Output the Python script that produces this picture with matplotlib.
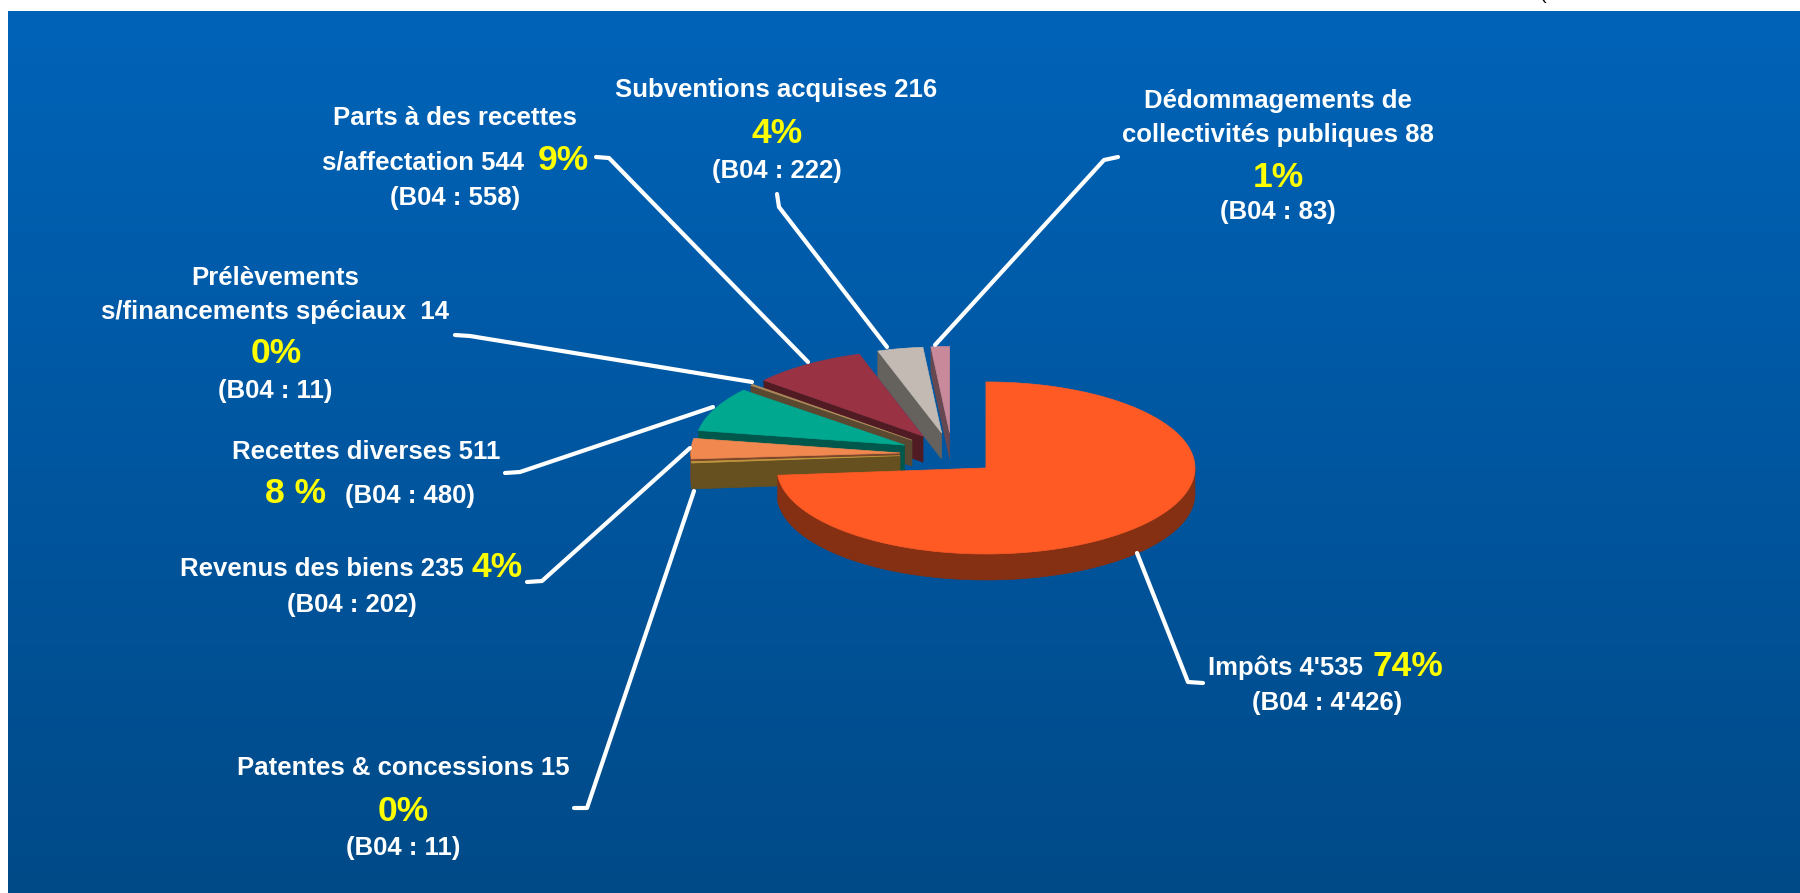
import numpy as np
import matplotlib
matplotlib.use("Agg")
import matplotlib.pyplot as plt
from matplotlib.patches import Polygon
from matplotlib.colors import to_rgb

# Recettes 2005 (en millions), comparaison budget 2004
categories = ["Impôts", "Patentes & concessions", "Revenus des biens",
              "Recettes diverses", "Prélèvements\ns/financements spéciaux ",
              "Parts à des recettes\ns/affectation", "Subventions acquises",
              "Dédommagements de\ncollectivités publiques"]
values_2005 = [4535, 15, 235, 511, 14, 544, 216, 88]
values_b04 = [4426, 11, 202, 480, 11, 558, 222, 83]
pct_labels = ["74%", "0%", "4%", "8 %", "0%", "9%", "4%", "1%"]
top_colors = ["#FF5A24", "#C49A3E", "#F08850", "#00A890",
              "#AD8A5C", "#993344", "#C2BAB3", "#C88A9A"]


def fmt(v):
    return f"{v:,}".replace(",", "'")


fig = plt.figure(figsize=(18, 8.93), dpi=100)
ax = fig.add_axes([0, 0, 1, 1])
ax.set_xlim(0, 1800)
ax.set_ylim(893, 0)
ax.axis("off")
plt.rcParams["font.family"] = ["Liberation Sans", "DejaVu Sans"]

# blue gradient background
grad = np.linspace(0, 1, 256)[:, None]
top_c = np.array([0, 99, 184]) / 255
bot_c = np.array([0, 74, 136]) / 255
img = top_c[None, None, :] * (1 - grad[:, :, None]) + bot_c[None, None, :] * grad[:, :, None]
ax.imshow(img, extent=[8, 1800, 893, 11], aspect="auto", zorder=0)
ax.text(1540, -1, "(", fontsize=14, color="black", va="baseline", zorder=5)

# 3D exploded pie
cx, cy = 952, 454
rx, ry = 209, 86
depth = 26
explode = [0.24, 0.25, 0.25, 0.25, 0.25, 0.25, 0.25, 0.25]

total = sum(values_2005)
cum = np.concatenate([[0], np.cumsum(values_2005)]) / total * 360


def rim(ox, oy, th, dz=0):
    t = np.radians(th)
    return np.column_stack([ox + rx * np.cos(t), oy - ry * np.sin(t) + dz])


def shade(c, f=0.52):
    return tuple(np.array(to_rgb(c)) * f)


def draw_slice(i, z):
    b = 90 - cum[i]
    a = 90 - cum[i + 1]
    mid = np.radians((a + b) / 2)
    ox = cx + explode[i] * rx * np.cos(mid)
    oy = cy - explode[i] * ry * np.sin(mid)
    if i == 0:
        ox -= 3
    side = shade(top_colors[i])
    apex = np.array([[ox, oy]])
    apex_b = np.array([[ox, oy + depth]])
    # radial faces
    for phi, vis in ((b, np.cos(np.radians(b)) < 0), (a, np.cos(np.radians(a)) > 0)):
        if vis:
            p = rim(ox, oy, np.array([phi]))
            pb = rim(ox, oy, np.array([phi]), depth)
            ax.add_patch(Polygon(np.vstack([apex, p, pb, apex_b]), closed=True,
                                 fc=side, ec=side, lw=0.5, zorder=z))
    # curved outer side (front half only)
    for lo, hi in ((max(a, 180), min(b, 360)), (max(a, -180), min(b, 0))):
        if hi > lo:
            th = np.linspace(lo, hi, 120)
            poly = np.vstack([rim(ox, oy, th), rim(ox, oy, th[::-1], depth)])
            ax.add_patch(Polygon(poly, closed=True, fc=side, ec=side, lw=0.5, zorder=z))
    # top face
    th = np.linspace(a, b, max(4, int((b - a) * 2)))
    ax.add_patch(Polygon(np.vstack([apex, rim(ox, oy, th)]), closed=True,
                         fc=top_colors[i], ec=top_colors[i], lw=0.5, zorder=z + 0.5))


for k, i in enumerate([7, 6, 5, 4, 3, 2, 1, 0]):
    draw_slice(i, 2 + k)

# leader lines
leaders = {
    0: [(1137, 553), (1188, 682), (1203, 683)],
    1: [(694, 491), (587, 808), (574, 808)],
    2: [(690, 448), (542, 581), (527, 582)],
    3: [(713, 407), (520, 472), (505, 473)],
    4: [(752, 382), (470, 336), (455, 335)],
    5: [(808, 362), (609, 158), (596, 157)],
    6: [(887, 347), (779, 207), (777, 194)],
    7: [(935, 345), (1104, 160), (1118, 157)],
}
for i, pts in leaders.items():
    xs, ys = zip(*pts)
    ax.plot(xs, ys, color="white", lw=3, solid_capstyle="round",
            solid_joinstyle="round", zorder=20)

W = dict(color="white", fontsize=18.5, fontweight="bold", zorder=21)
Y = dict(color="#FFFF00", fontsize=25.5, fontweight="bold", zorder=21)

# Impôts
ax.text(1208, 675, f"{categories[0]} {fmt(values_2005[0])}", ha="left", va="baseline", **W)
ax.text(1372, 676, pct_labels[0], ha="left", va="baseline", **Y)
ax.text(1327, 710, f"(B04 : {fmt(values_b04[0])})", ha="center", va="baseline", **W)

# Patentes & concessions
ax.text(403, 775, f"{categories[1]} {fmt(values_2005[1])}", ha="center", va="baseline", **W)
ax.text(403, 821, pct_labels[1], ha="center", va="baseline", **Y)
ax.text(403, 855, f"(B04 : {fmt(values_b04[1])})", ha="center", va="baseline", **W)

# Revenus des biens
ax.text(180, 576, f"{categories[2]} {fmt(values_2005[2])}", ha="left", va="baseline", **W)
ax.text(472, 577, pct_labels[2], ha="left", va="baseline", **Y)
ax.text(352, 612, f"(B04 : {fmt(values_b04[2])})", ha="center", va="baseline", **W)

# Recettes diverses
ax.text(366, 459, f"{categories[3]} {fmt(values_2005[3])}", ha="center", va="baseline", **W)
ax.text(265, 503, pct_labels[3], ha="left", va="baseline", **Y)
ax.text(345, 503, f"(B04 : {fmt(values_b04[3])})", ha="left", va="baseline", **W)

# Prélèvements
l1, l2 = categories[4].split("\n")
ax.text(275, 285, l1, ha="center", va="baseline", **W)
ax.text(275, 319, f"{l2} {fmt(values_2005[4])}", ha="center", va="baseline", **W)
ax.text(276, 363, pct_labels[4], ha="center", va="baseline", **Y)
ax.text(275, 398, f"(B04 : {fmt(values_b04[4])})", ha="center", va="baseline", **W)

# Parts à des recettes
l1, l2 = categories[5].split("\n")
ax.text(455, 125, l1, ha="center", va="baseline", **W)
ax.text(322, 170, f"{l2} {fmt(values_2005[5])}", ha="left", va="baseline", **W)
ax.text(538, 170, pct_labels[5], ha="left", va="baseline", **Y)
ax.text(455, 205, f"(B04 : {fmt(values_b04[5])})", ha="center", va="baseline", **W)

# Subventions acquises
ax.text(776, 97, f"{categories[6]} {fmt(values_2005[6])}", ha="center", va="baseline", **W)
ax.text(777, 143, pct_labels[6], ha="center", va="baseline", **Y)
ax.text(777, 178, f"(B04 : {fmt(values_b04[6])})", ha="center", va="baseline", **W)

# Dédommagements
l1, l2 = categories[7].split("\n")
ax.text(1278, 108, l1, ha="center", va="baseline", **W)
ax.text(1278, 142, f"{l2} {fmt(values_2005[7])}", ha="center", va="baseline", **W)
ax.text(1278, 187, pct_labels[7], ha="center", va="baseline", **Y)
ax.text(1278, 219, f"(B04 : {fmt(values_b04[7])})", ha="center", va="baseline", **W)

fig.savefig("out.png", dpi=100, facecolor="white")
